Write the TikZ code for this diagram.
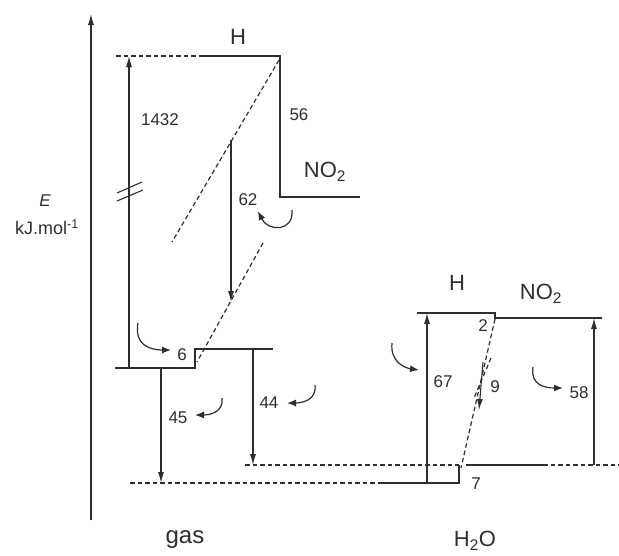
\documentclass[tikz,border=0pt]{standalone}
\usepackage{fontspec}
\setmainfont{Liberation Sans}
\usetikzlibrary{arrows.meta}
\definecolor{inkGray}{HTML}{2E2E2E}

\begin{document}
\begin{tikzpicture}[x=1pt, y=-1pt, inkGray,
    level/.style={line width=2.4pt},
    guide/.style={line width=1.2pt, dash pattern=on 4.5pt off 3pt},
    trans/.style={line width=1.1pt, -{Latex[length=11pt, width=6pt]}},
    hook/.style={line width=1.2pt, -{Latex[length=9pt, width=7pt]}},
    num/.style={font=\fontsize{17}{17}\selectfont, inner sep=1pt},
    spec/.style={font=\fontsize{22}{22}\selectfont, inner sep=1pt},
]
    \useasboundingbox (0,0) rectangle (619,555);

    % energy axis
    \coordinate (axisB) at (91,520);
    \coordinate (axisT) at (91,14);
    \draw[line width=1.1pt, -{Latex[length=11pt, width=6pt]}] (axisB) -- (axisT);
    \node[font=\fontsize{17}{17}\selectfont\itshape] (axisE) at (45,201) {E};
    \node[font=\fontsize{18}{18}\selectfont] (axisU) at (47,227) {kJ.mol\textsuperscript{-1}};

    % gas phase, top
    \coordinate (hL) at (116,56);
    \coordinate (hA) at (200,56);
    \coordinate (hR) at (280,56);
    \coordinate (nT) at (280,197);
    \coordinate (nR) at (360,197);
    \draw[guide] (hL) -- (hA);
    \draw[level] (hA) -- (hR) -- (nT) -- (nR);
    \node[spec] (gasH) at (238,37) {H};
    \node[spec] (gasNO) at (325,172) {NO\textsubscript{2}};

    % gas phase, bottom
    \coordinate (gL) at (115,368);
    \coordinate (gM) at (195,368);
    \coordinate (gU) at (195,349);
    \coordinate (gR) at (273,349);
    \draw[level] (gL) -- (gM) -- (gU) -- (gR);

    % dissociation 1432
    \coordinate (b0) at (129,368);
    \coordinate (b1) at (129,56);
    \draw[trans] (b0) -- (b1);
    \coordinate (brk) at (129,192);
    \draw[line width=1.1pt] ([shift={(-12,1)}]brk) -- ([shift={(13,-10)}]brk);
    \draw[line width=1.1pt] ([shift={(-12,9)}]brk) -- ([shift={(14,-2)}]brk);
    \node[num] (l1432) at (160,120) {1432};
    \node[num] (l56) at (299,115) {56};

    % dashed diagonals and 62
    \coordinate (d1a) at (279,60);
    \coordinate (d1b) at (172,242);
    \coordinate (d2a) at (263,243);
    \coordinate (d2b) at (197,362);
    \draw[guide] (d1a) -- (d1b);
    \draw[guide] (d2a) -- (d2b);
    \coordinate (p62a) at (231,140);
    \coordinate (p62b) at (231,302);
    \draw[trans] (p62a) -- (p62b);
    \node[num] (l62) at (248,200) {62};
    \coordinate (k62a) at (292,210);
    \coordinate (k62b) at (258,211);
    \draw[hook] (k62a) .. controls (294,232) and (268,232) .. (k62b);

    % 6
    \node[num] (l6) at (182,355) {6};
    \coordinate (k6a) at (138,323);
    \coordinate (k6b) at (171,350);
    \draw[hook] (k6a) .. controls (134,345) and (150,350) .. (k6b);

    % solvation levels
    \coordinate (wL) at (130,483);
    \coordinate (wA) at (378,483);
    \coordinate (wB) at (459,483);
    \coordinate (wC) at (459,465);
    \coordinate (uL) at (245,465);
    \coordinate (uA) at (466,465);
    \coordinate (uB) at (543,465);
    \coordinate (uR) at (619,465);
    \draw[guide] (wL) -- (wA);
    \draw[level] (wA) -- (wB) -- (wC);
    \draw[guide] (uL) -- (wC);
    \draw[level] (uA) -- (uB);
    \draw[guide] (uB) -- (uR);

    % 45 and 44
    \coordinate (p45a) at (161,368);
    \coordinate (p45b) at (161,483);
    \draw[trans] (p45a) -- (p45b);
    \node[num] (l45) at (178,418) {45};
    \coordinate (k45a) at (222,398);
    \coordinate (k45b) at (195,415);
    \draw[hook] (k45a) .. controls (224,412) and (210,415) .. (k45b);
    \coordinate (p44a) at (253,349);
    \coordinate (p44b) at (253,465);
    \draw[trans] (p44a) -- (p44b);
    \node[num] (l44) at (269,403) {44};
    \coordinate (k44a) at (315,385);
    \coordinate (k44b) at (287,403);
    \draw[hook] (k44a) .. controls (317,400) and (302,403) .. (k44b);

    % water, top
    \coordinate (rL) at (417,313);
    \coordinate (rA) at (495,313);
    \coordinate (rB) at (495,318);
    \coordinate (rR) at (602,318);
    \draw[level] (rL) -- (rA) -- (rB) -- (rR);
    \node[spec] (watH) at (457,283) {H};
    \node[spec] (watNO) at (541,294) {NO\textsubscript{2}};
    \node[num] (l2) at (483,326) {2};
    \node[num] (l7) at (476,484) {7};

    % 67 and 58
    \coordinate (p67a) at (427,483);
    \coordinate (p67b) at (427,313);
    \draw[trans] (p67a) -- (p67b);
    \node[num] (l67) at (443,382) {67};
    \coordinate (k67a) at (392,343);
    \coordinate (k67b) at (419,370);
    \draw[hook] (k67a) .. controls (390,362) and (405,368) .. (k67b);
    \coordinate (p58a) at (594,465);
    \coordinate (p58b) at (594,318);
    \draw[trans] (p58a) -- (p58b);
    \node[num] (l58) at (579,393) {58};
    \coordinate (k58a) at (533,367);
    \coordinate (k58b) at (563,388);
    \draw[hook] (k58a) .. controls (530,385) and (545,388) .. (k58b);

    % dashed diagonals and 9
    \coordinate (e1a) at (495,319);
    \coordinate (e1b) at (461,468);
    \coordinate (e2a) at (491,358);
    \coordinate (e2b) at (474,398);
    \draw[guide] (e1a) -- (e1b);
    \draw[guide] (e2a) -- (e2b);
    \coordinate (p9a) at (483,362);
    \coordinate (p9b) at (479,410);
    \draw[trans] (p9a) -- (p9b);
    \node[num] (l9) at (495,387) {9};

    % phase labels
    \node[font=\fontsize{24}{24}\selectfont] (phGas) at (185,540) {gas};
    \node[font=\fontsize{22}{22}\selectfont] (phWat) at (475,541) {H\textsubscript{2}O};
\end{tikzpicture}
\end{document}
